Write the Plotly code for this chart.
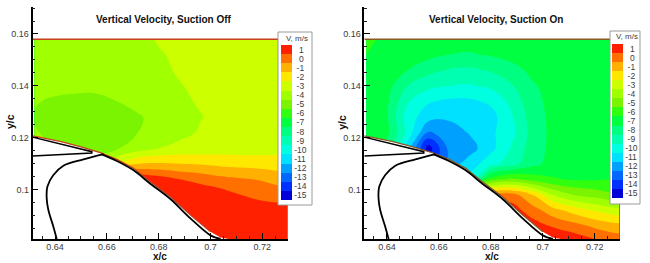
import plotly.graph_objects as go

W, H = 650, 263
FONT = "Liberation Sans"

x_grid = [.632, .64, .648, .656, .664, .672, .68, .688, .696, .704, .712, .72, .728, .73]
y_grid = [.158, .152, .146, .14, .134, .128, .122, .116, .11, .104, .098, .092, .086, .081]

z_off = [
    [-3.6, -3.7, -3.8, -4, -4, -3.8, -3.4, -3.2, -3.1, -3, -3, -3, -3, -3],
    [-3.8, -3.9, -4, -4.1, -4.1, -3.9, -3.6, -3.3, -3.2, -3.1, -3, -3, -3, -3],
    [-3.9, -4, -4.1, -4.2, -4.2, -4, -3.7, -3.4, -3.2, -3.1, -3, -3, -3, -3],
    [-4, -4.1, -4.2, -4.3, -4.3, -4.1, -3.8, -3.55, -3.3, -3.1, -3, -3, -3, -3],
    [-4.4, -4.7, -4.8, -4.7, -4.5, -4.2, -4, -3.7, -3.4, -3.2, -3.05, -3, -3, -3],
    [-4.6, -5, -5.2, -5.2, -5, -4.6, -4.2, -3.9, -3.55, -3.2, -3.05, -3, -3, -3],
    [-4.4, -4.8, -5, -5.1, -4.9, -4.5, -4.1, -3.8, -3.4, -3.15, -3, -3, -3, -3],
    [-4.2, -4.5, -4.7, -4.8, -4.6, -4, -3.5, -3.2, -3.1, -3, -3, -2.95, -2.9, -2.9],
    [-4, -4, -4, -4, -2.5, -1.5, -1.4, -1.5, -1.6, -1.77, -1.85, -1.95, -2, -2],
    [1.4, 1.4, 1.4, 1.4, 1.4, 1.4, 1.0, .5, .2, -.2, -.4, -.6, -1, -1],
    [1.4, 1.4, 1.4, 1.4, 1.4, 1.4, 1.4, 1.3, 1.2, 1.0, .5, .2, .1, .1],
    [1.4, 1.4, 1.4, 1.4, 1.4, 1.4, 1.4, 1.4, 1.4, 1.3, 1.2, 1.0, .9, .9],
    [1.4, 1.4, 1.4, 1.4, 1.4, 1.4, 1.4, 1.4, 1.4, 1.3, 1.3, 1.2, 1.1, 1.1],
    [1.4, 1.4, 1.4, 1.4, 1.4, 1.4, 1.4, 1.4, 1.4, 1.4, 1.4, 1.3, 1.2, 1.2],
]

z_on = [
    [-6.4, -6.6, -6.8, -6.9, -7, -7, -7, -7, -7, -6.9, -6.9, -6.8, -6.8, -6.8],
    [-6.5, -6.8, -7, -7.2, -7.5, -7.6, -7.4, -7.2, -7.1, -7, -7, -6.9, -6.8, -6.8],
    [-6.6, -6.9, -7.5, -8.2, -8.6, -8.7, -8.4, -7.8, -7.3, -7.1, -7, -6.9, -6.9, -6.9],
    [-6.7, -7.1, -8.5, -9.2, -9.5, -9.6, -9.3, -8.6, -7.6, -7.2, -7, -7, -7, -7],
    [-6.9, -7.3, -9.4, -10.4, -10.7, -10.7, -10.3, -9.2, -7.8, -7.2, -7, -7, -7, -7],
    [-7, -7.4, -10, -11.1, -11.3, -11.3, -10.9, -9.6, -8, -7.2, -7, -7, -7, -7],
    [-6.8, -7.2, -9.9, -12.6, -12.1, -11.4, -10.7, -9.8, -8.1, -7.2, -7, -7, -7, -7],
    [-7, -8, -11, -15, -12.2, -11.9, -10.8, -9.4, -8, -7.2, -7, -7, -7, -7],
    [-9, -9, -12, -14, -12, -11, -9.9, -8.9, -7.8, -7.1, -6.9, -6.8, -6.7, -6.7],
    [-9, -9, -9, -9, -10, -10, -6, -5.3, -5.9, -6.4, -6.6, -6.6, -6.5, -6.5],
    [0, 0, 0, 0, 0, 0, 0, 0, -1.5, -3.5, -4.5, -4.9, -5.4, -5.4],
    [1, 1, 1, 1, 1, 1, 1, 1, 0, -1.1, -1.9, -2.6, -3.1, -3.1],
    [1, 1, 1, 1, 1, 1, 1, 1, 1, .4, -.1, -.7, -1.1, -1.1],
    [1.2, 1.2, 1.2, 1.2, 1.2, 1.2, 1.2, 1.2, 1.2, 1.2, 1, .5, 0, 0],
]

band_colors = ["#0000d8", "#0030ff", "#0068ff", "#00a0ff", "#00e0ff", "#00ffe0", "#00ffb0",
               "#00ff80", "#00ff40", "#30ff10", "#7af400", "#a0ff00", "#ccff00",
               "#ffe800", "#ffb000", "#ff7000", "#ff2000"]
level_vals = [1, 0, -1, -2, -3, -4, -5, -6, -7, -8, -9, -10, -11, -12, -13, -14, -15]
level_text = ["\u00a0\u00a01", "\u00a0\u00a00", "\u00a0-1", "\u00a0-2", "\u00a0-3", "\u00a0-4", "\u00a0-5",
              "\u00a0-6", "\u00a0-7", "\u00a0-8", "\u00a0-9", "-10", "-11", "-12", "-13", "-14", "-15"]

x_ticks = [.64, .66, .68, .7, .72]
x_tick_text = ["0.64", "0.66", "0.68", "0.7", "0.72"]
y_ticks = [.1, .12, .14, .16]
y_tick_text = ["0.1", "0.12", "0.14", "0.16"]

wall_x = [.6313, .63161, .64194, .64968, .65742, .66387, .67032, .67677, .68451, .69225, .69999, .70386, .70773]
wall_y = [.12075, .12069, .11863, .11658, .11426, .11169, .10822, .10308, .0973, .09023, .08381, .08162, .08085]
slat_x = [.6313, .64194, .64839, .65419, .65419, .6313]
slat_y = [.12025, .1176, .11581, .11465, .11414, .11295]
main_x = [.65806, .66387, .67032, .67677, .68451, .69225, .69999, .70386]
main_y = [.11362, .11105, .10745, .10231, .0964, .08895, .0824, .081]
lower_x = [.65871, .65097, .64323, .63936, .63703, .63678, .63742, .63936, .64065]
lower_y = [.11375, .11169, .10925, .10565, .10116, .09666, .09216, .08574, .081]

x_range = [.6313, .7297]
y_range = [.081, .1704]
top_y = .158

n = len(band_colors)
scale = []
for i, c in enumerate(band_colors):
    scale += [[i / n, c], [(i + 1) / n, c]]

panels = [
    dict(z=z_off, title="Vertical Velocity, Suction Off", px0=32.5, px1=287.5, tx=164,
         bar=(281, 292, 45, 200), box=(278, 312, 32, 205), edge="#c8401c", xa="x", ya="y"),
    dict(z=z_on, title="Vertical Velocity, Suction On", px0=364.3, px1=620, tx=496,
         bar=(612, 623, 44, 198), box=(610, 640, 31, 204), edge="#8a5a24", xa="x2", ya="y2"),
]

fig = go.Figure()
annots, shapes = [], []
layout_axes = {}
ink = "#3c3c3c"


def txt(x, y, s, size, bold=False, angle=0, color="#111"):
    annots.append(dict(xref="paper", yref="paper", x=x / W, y=1 - y / H, text=f"<b>{s}</b>" if bold else s,
                       showarrow=False, xanchor="center", yanchor="middle", textangle=angle,
                       font=dict(family=FONT, size=size, color=color)))


for i, p in enumerate(panels):
    xa, ya = p["xa"], p["ya"]
    fig.add_trace(go.Contour(
        x=x_grid, y=y_grid, z=p["z"], zmin=-15.5, zmax=1.5, autocontour=False, colorscale=scale,
        contours=dict(coloring="fill", start=-15.5, end=1.5, size=1, showlines=False),
        line=dict(width=0, smoothing=1.3), xaxis=xa, yaxis=ya, hoverinfo="skip",
        colorbar=dict(x=p["bar"][0] / W, xanchor="left", xpad=0, ypad=0,
                      y=1 - p["bar"][3] / H, yanchor="bottom", lenmode="pixels", len=p["bar"][3] - p["bar"][2],
                      thickness=p["bar"][1] - p["bar"][0], thicknessmode="pixels", outlinewidth=0,
                      tickmode="array", tickvals=level_vals, ticktext=level_text, ticks="", ticklen=0,
                      tickfont=dict(family=FONT, size=8.5, color=ink), borderwidth=0, bgcolor="rgba(0,0,0,0)")))
    fig.add_trace(go.Scatter(x=wall_x + [wall_x[-1], wall_x[0]], y=wall_y + [y_range[0], y_range[0]],
                             mode="lines", fill="toself", fillcolor="white", line=dict(width=0),
                             xaxis=xa, yaxis=ya, hoverinfo="skip", showlegend=False))
    fig.add_trace(go.Scatter(x=wall_x[:-2], y=wall_y[:-2], mode="lines", line=dict(color=p["edge"], width=1.2),
                             xaxis=xa, yaxis=ya, hoverinfo="skip", showlegend=False))
    fig.add_trace(go.Scatter(x=list(x_range), y=[top_y, top_y], mode="lines", line=dict(color=p["edge"], width=1.6),
                             xaxis=xa, yaxis=ya, hoverinfo="skip", showlegend=False))
    if i == 1:
        fig.add_trace(go.Scatter(x=[x_range[1]] * 2, y=[y_range[0], top_y], mode="lines",
                                 line=dict(color=p["edge"], width=1.6),
                                 xaxis=xa, yaxis=ya, hoverinfo="skip", showlegend=False))
    for cx, cy, w, sh in ((slat_x, slat_y, 1.5, "linear"), (main_x, main_y, 1.8, "spline"), (lower_x, lower_y, 1.8, "spline")):
        style = dict(color="black", width=w, shape=sh)
        if sh == "spline":
            style["smoothing"] = 1.0
        fig.add_trace(go.Scatter(x=cx, y=cy, mode="lines", line=style,
                                 xaxis=xa, yaxis=ya, hoverinfo="skip", showlegend=False))

    xk = "xaxis" if i == 0 else "xaxis2"
    yk = "yaxis" if i == 0 else "yaxis2"
    common = dict(showgrid=False, zeroline=False, showline=True, linecolor="black", linewidth=1.6,
                  ticks="inside", ticklen=6, tickwidth=1.4, tickcolor="black", tickmode="array",
                  tickfont=dict(family=FONT, size=9, color=ink), layer="above traces")
    layout_axes[xk] = dict(common, domain=[p["px0"] / W, p["px1"] / W], range=x_range, anchor=ya,
                           tickvals=x_ticks, ticktext=x_tick_text, ticklabelstandoff=-2,
                           minor=dict(dtick=.005, tick0=.64, ticks="inside", ticklen=3, tickwidth=1, tickcolor="#222"))
    layout_axes[yk] = dict(common, domain=[1 - 239 / H, 1 - 7 / H], range=y_range, anchor=xa,
                           tickvals=y_ticks, ticktext=y_tick_text,
                           minor=dict(dtick=.005, tick0=.1, ticks="inside", ticklen=3, tickwidth=1, tickcolor="#222"))

    bx0, bx1, by0, by1 = p["box"]
    shapes.append(dict(type="rect", xref="paper", yref="paper", x0=bx0 / W, x1=bx1 / W, y0=1 - by1 / H, y1=1 - by0 / H,
                       fillcolor="white", line=dict(color="#9a9a9a", width=1), layer="above"))
    txt((bx0 + bx1) / 2 + 2, by0 + 6, "V, m/s", 8, color=ink)
    txt(p["tx"], 20, p["title"], 10, bold=True)
    txt(p["px0"] + 127.5, 256.5, "x/c", 10, bold=True)
    txt(p["px0"] - 22.5, 122, "y/c", 10.5, bold=True, angle=-90)

fig.update_layout(width=W, height=H, margin=dict(l=0, r=0, t=0, b=0, autoexpand=False), showlegend=False,
                  paper_bgcolor="white", plot_bgcolor="white", annotations=annots, shapes=shapes, **layout_axes)
fig.write_html("out.html", config=dict(displayModeBar=False),
               post_script="document.body.style.margin='0';document.documentElement.style.overflow='hidden';")
